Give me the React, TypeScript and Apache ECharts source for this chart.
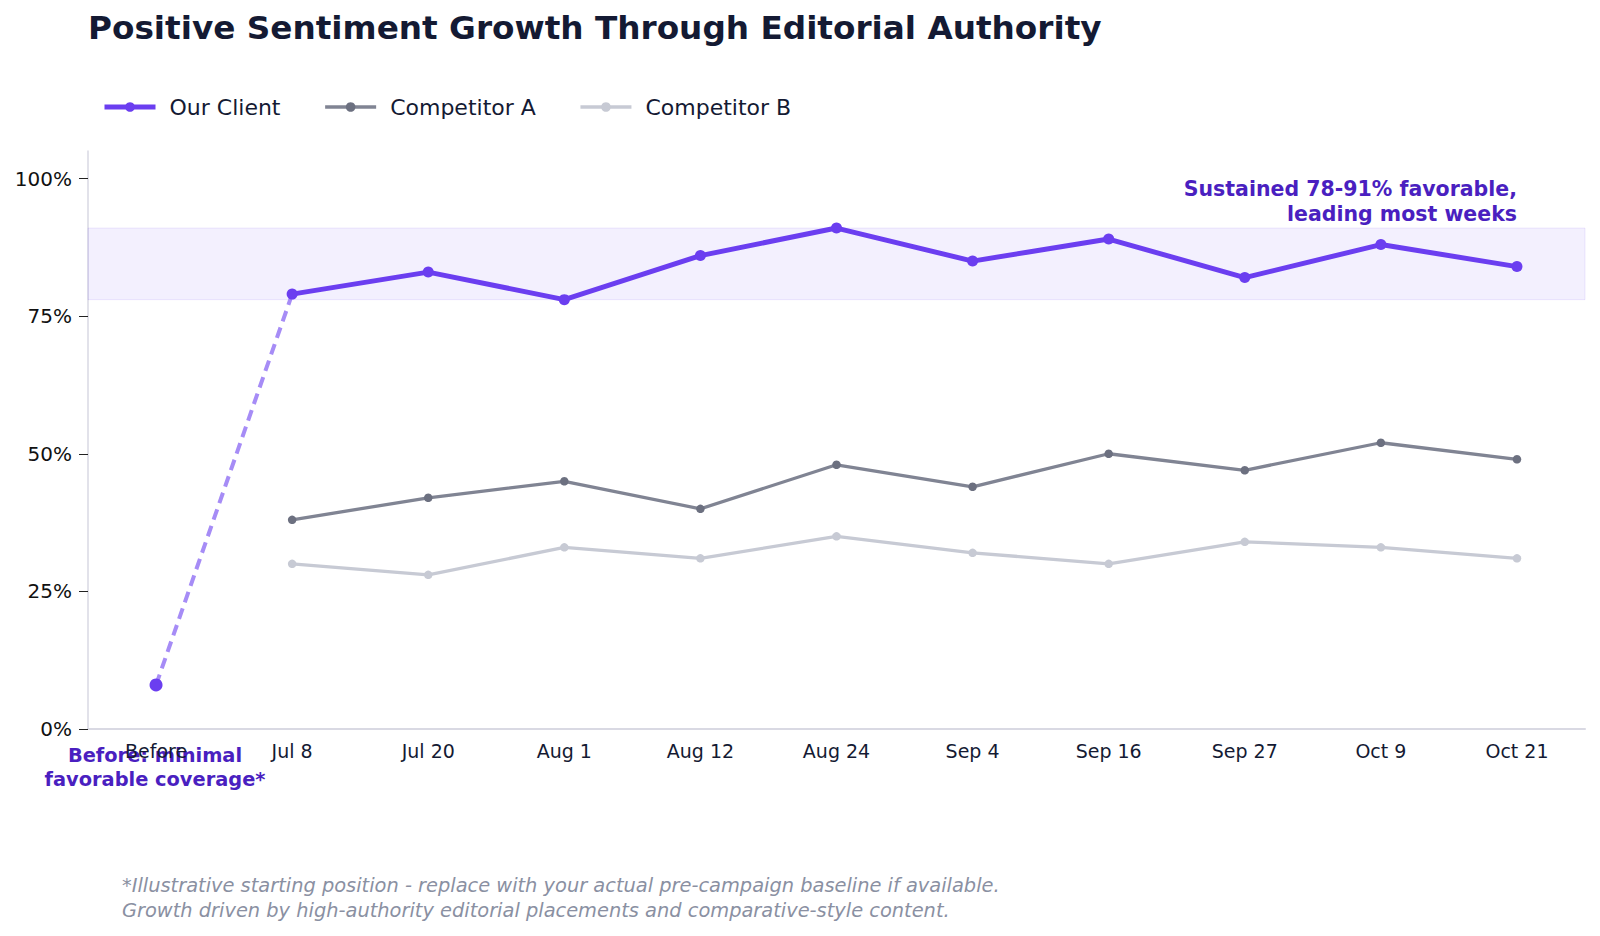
import React, { useEffect, useRef } from "react";
import * as echarts from "echarts";

const categories = ["Before", "Jul 8", "Jul 20", "Aug 1", "Aug 12", "Aug 24", "Sep 4", "Sep 16", "Sep 27", "Oct 9", "Oct 21"];
const ourClient = [null, 79, 83, 78, 86, 91, 85, 89, 82, 88, 84];
const baseline = [8, 79];
const competitorA = [null, 38, 42, 45, 40, 48, 44, 50, 47, 52, 49];
const competitorB = [null, 30, 28, 33, 31, 35, 32, 30, 34, 33, 31];
const yTicks = [0, 25, 50, 75, 100];
const band = [78, 91];

const FONT = "DejaVu Sans";
const PURPLE = "#6b3ef0";
const PURPLE_LIGHT = "#a68cf6";
const DEEP = "#4a1fc0";
const NAVY = "#141a33";
const GRAY_A = "#808493";
const GRAY_A_DOT = "#6c7080";
const GRAY_B = "#c7cad4";

export default function App() {
  const ref = useRef<HTMLDivElement>(null);

  useEffect(() => {
    if (!ref.current) return;
    const chart = echarts.init(ref.current, undefined, { renderer: "svg" });

    const baselineData = baseline.map((v, i) =>
      i === 0
        ? { value: v, symbol: "circle", symbolSize: 13, itemStyle: { color: PURPLE } }
        : { value: v, symbol: "none" }
    );

    chart.setOption({
      animation: false,
      textStyle: { fontFamily: FONT },
      title: {
        text: "Positive Sentiment Growth Through Editorial Authority",
        left: 83,
        top: 6,
        textStyle: { fontFamily: FONT, fontSize: 32.7, fontWeight: "bold", color: NAVY },
      },
      legend: {
        left: 97,
        top: 91,
        itemWidth: 51,
        itemHeight: 12,
        itemGap: 43,
        textStyle: { fontFamily: FONT, fontSize: 22, color: NAVY, padding: [0, 0, 0, 9] },
        data: [
          { name: "Our Client", lineStyle: { width: 5, color: PURPLE }, itemStyle: { color: PURPLE } },
          { name: "Competitor A", lineStyle: { width: 3.3, color: GRAY_A }, itemStyle: { color: GRAY_A_DOT } },
          { name: "Competitor B", lineStyle: { width: 3.3, color: GRAY_B }, itemStyle: { color: GRAY_B } },
        ],
      },
      grid: { left: 88, right: 15, top: 151, bottom: 207 },
      xAxis: {
        type: "category",
        data: categories,
        boundaryGap: true,
        axisLine: { lineStyle: { color: "#d9d9e3", width: 2 } },
        axisTick: { alignWithLabel: true, length: 8, lineStyle: { color: "#222" } },
        axisLabel: { fontFamily: FONT, fontSize: 19, color: NAVY, margin: 12 },
      },
      yAxis: {
        type: "value",
        min: 0,
        max: 105,
        interval: 25,
        splitLine: { show: false },
        axisLine: { show: true, lineStyle: { color: "#d9d9e3", width: 1.5 } },
        axisTick: { show: true, length: 9, lineStyle: { color: "#222" }, customValues: yTicks },
        axisLabel: {
          fontFamily: FONT,
          fontSize: 20,
          color: "#111",
          margin: 16,
          customValues: yTicks,
          formatter: (v: number) => `${v}%`,
        },
      },
      series: [
        {
          name: "Baseline",
          type: "line",
          data: baselineData,
          lineStyle: { color: PURPLE_LIGHT, width: 4, type: [11, 6.5] },
          itemStyle: { color: PURPLE },
          z: 3,
          silent: true,
        },
        {
          name: "Competitor B",
          type: "line",
          data: competitorB,
          symbol: "circle",
          symbolSize: 8.5,
          lineStyle: { color: GRAY_B, width: 3.3 },
          itemStyle: { color: GRAY_B },
          z: 2,
        },
        {
          name: "Competitor A",
          type: "line",
          data: competitorA,
          symbol: "circle",
          symbolSize: 8.5,
          lineStyle: { color: GRAY_A, width: 3.3 },
          itemStyle: { color: GRAY_A_DOT },
          z: 2,
        },
        {
          name: "Our Client",
          type: "line",
          data: ourClient,
          symbol: "circle",
          symbolSize: 11,
          lineStyle: { color: PURPLE, width: 5 },
          itemStyle: { color: PURPLE },
          z: 4,
          markArea: {
            silent: true,
            itemStyle: {
              color: "rgba(107,62,240,0.08)",
              borderColor: "rgba(107,62,240,0.10)",
              borderWidth: 1,
            },
            data: [[{ yAxis: band[0] }, { yAxis: band[1] }]],
          },
        },
      ],
      graphic: [
        {
          type: "text",
          x: 1517,
          y: 176,
          style: {
            text: "Sustained 78-91% favorable,\nleading most weeks",
            fontFamily: FONT,
            fontSize: 20.5,
            fontWeight: "bold",
            fill: DEEP,
            align: "right",
            lineHeight: 25,
          },
        },
        {
          type: "text",
          x: 155,
          y: 743,
          style: {
            text: "Before: minimal\nfavorable coverage*",
            fontFamily: FONT,
            fontSize: 19.4,
            fontWeight: "bold",
            fill: DEEP,
            align: "center",
            lineHeight: 24,
          },
        },
        {
          type: "text",
          x: 122,
          y: 873,
          style: {
            text:
              "*Illustrative starting position - replace with your actual pre-campaign baseline if available.\nGrowth driven by high-authority editorial placements and comparative-style content.",
            fontFamily: FONT,
            fontSize: 19.4,
            fontStyle: "italic",
            fill: "#8a90a2",
            lineHeight: 25,
          },
        },
      ],
    });

    return () => chart.dispose();
  }, []);

  return (
    <div
      ref={ref}
      style={{ position: "fixed", left: 0, top: 0, width: 1600, height: 936, background: "#fff" }}
    />
  );
}
